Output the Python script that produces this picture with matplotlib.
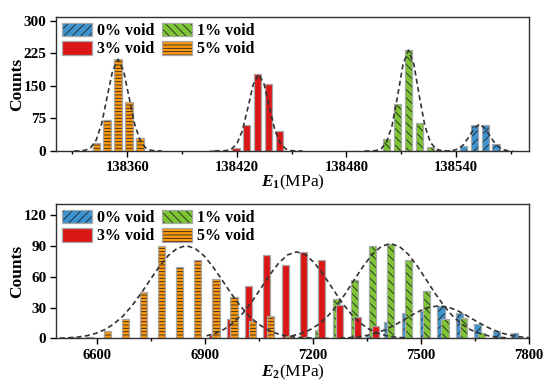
import matplotlib
matplotlib.use("Agg")
import matplotlib.pyplot as plt
from matplotlib.patches import Patch
from matplotlib.ticker import MultipleLocator

plt.rcParams['font.family'] = ['Liberation Serif', 'DejaVu Serif']
plt.rcParams['font.weight'] = 'bold'
plt.rcParams['mathtext.fontset'] = 'custom'
plt.rcParams['mathtext.rm'] = 'Liberation Serif:bold'
plt.rcParams['mathtext.it'] = 'Liberation Serif:italic:bold'
plt.rcParams['hatch.linewidth'] = 0.6

# ---- E1 histogram (top) ----
e1_v0_x = [138544, 138550, 138556, 138562]
e1_v0_n = [12, 59, 61, 17]
e1_v1_x = [138484, 138496, 138502, 138508, 138514, 138520, 138526]
e1_v1_n = [1, 1, 28, 108, 232, 65, 9]
e1_v3_x = [138407.5, 138419.5, 138425.5, 138431.5, 138437.5, 138443.5]
e1_v3_n = [2, 8, 60, 177, 154, 47]
e1_v5_x = [138331, 138343, 138349, 138355, 138361, 138367]
e1_v5_n = [1, 18, 71, 211, 113, 31]

# fitted normal curves (E1)
e1_fit0_x = list(range(138529, 138572, 3))
e1_fit0_y = [0, 0, 0.15, 1, 4.3, 14, 32, 52, 62, 52, 32, 14, 4.3, 1, 0.15]
e1_fit1_x = list(range(138490, 138539, 3))
e1_fit1_y = [0, 0.1, 0.9, 4.9, 20, 58, 125, 199, 232, 199, 125, 58, 20, 4.9, 0.9, 0.1, 0]
e1_fit3_x = list(range(138408, 138457, 3))
e1_fit3_y = [0, 0.1, 0.8, 4.3, 16, 46, 98, 153, 177, 153, 98, 46, 16, 4.3, 0.8, 0.1, 0]
e1_fit5_x = list(range(138331, 138380, 3))
e1_fit5_y = [0, 0.3, 1.7, 7.5, 25, 63, 124, 185, 211, 185, 124, 63, 25, 7.5, 1.7, 0.3, 0]

# ---- E2 histogram (bottom) ----
e2_v0_x = [7357, 7407, 7457, 7507, 7556, 7607, 7658, 7709, 7759]
e2_v0_n = [3, 16, 25, 27, 31.5, 24.5, 14, 7, 5]
e2_v1_x = [7215, 7265, 7315, 7365, 7416, 7466, 7516, 7567, 7618, 7668]
e2_v1_n = [8, 38, 57, 90, 92, 76, 46, 19, 20, 5]
e2_v3_x = [6922, 6972, 7022, 7072, 7123, 7173, 7223, 7273, 7325, 7375]
e2_v3_n = [3, 19, 51, 81, 71, 84, 76, 32, 21, 12]
e2_v5_x = [6529, 6579, 6629, 6679, 6729, 6779, 6830, 6880, 6931, 6981,
           7032, 7082, 7132, 7183]
e2_v5_n = [1, 1, 7, 19, 45, 90, 69, 76, 58, 40, 17, 22, 2, 1]

e2_fit0_x = list(range(7275, 7801, 25))
e2_fit0_y = [0.36, 0.8, 1.6, 3.0, 5.2, 8.4, 12.6, 17.5, 22.7, 27.3, 30.5, 31.6,
             30.5, 27.3, 22.7, 17.5, 12.6, 8.4, 5.2, 3.0, 1.6, 0.8]
e2_fit1_x = list(range(7140, 7741, 25))
e2_fit1_y = [2.4, 4.6, 8.1, 13.5, 21.1, 31.2, 43.4, 56.9, 70.2, 81.6, 89.3, 92,
             89.3, 81.6, 70.2, 56.9, 43.4, 31.2, 21.1, 13.5, 8.1, 4.6, 2.4, 1.2,
             0.6]
e2_fit3_x = list(range(6905, 7456, 25))
e2_fit3_y = [2.6, 5.1, 9.2, 15.4, 24.2, 35.3, 48.3, 61.5, 73.1, 81.1, 84,
             81.1, 73.1, 61.5, 48.3, 35.3, 24.2, 15.4, 9.2, 5.1, 2.6, 1.3, 0.6]
e2_fit5_x = list(range(6498, 7249, 25))
e2_fit5_y = [0.3, 0.7, 1.4, 2.7, 5.0, 8.7, 14.2, 21.8, 31.8, 43.7, 56.7, 69.4,
             80.2, 87.4, 90, 87.4, 80.2, 69.4, 56.7, 43.7, 31.8, 21.8, 14.2,
             8.7, 5.0, 2.7, 1.4, 0.7, 0.3, 0.1, 0.05]

LABELS = ['0% void', '1% void', '3% void', '5% void']
COLORS = ['#3C93D0', '#7DC534', '#DA1717', '#FF990D']
HATCHES = ['////', '\\\\\\\\', None, '-----']
EDGE = '#A8A8A8'
HATCH_C = '#222222'


def draw_bars(ax, x, n, i, width):
    ax.bar(x, n, width, color=COLORS[i], edgecolor=HATCH_C, linewidth=0,
           hatch=HATCHES[i], zorder=2)
    ax.bar(x, n, width, fill=False, edgecolor=EDGE, linewidth=0.9, zorder=2)


def style_axis(ax, xlabel, label_y):
    for s in ax.spines.values():
        s.set_color('#303030')
        s.set_linewidth(1.0)
    ax.tick_params(axis='x', which='major', direction='out', length=4,
                   width=1, labelsize=10.5, top=False, pad=3.5)
    ax.tick_params(axis='y', which='major', direction='out', length=4,
                   width=1, labelsize=11, right=False, pad=3)
    ax.tick_params(axis='x', which='minor', direction='out', length=2.5, width=1)
    ax.tick_params(axis='y', which='minor', left=False)
    ax.set_ylabel('Counts', fontsize=12.5, fontweight='bold')
    ax.yaxis.set_label_coords(-0.083, 0.5)
    ax.set_xlabel(xlabel, fontsize=12.5)
    ax.xaxis.set_label_coords(0.5, label_y)
    ax.xaxis.label.set_va('center')
    ax.yaxis.label.set_va('center')
    handles = []
    for i in range(4):
        handles.append((Patch(facecolor=COLORS[i], edgecolor=HATCH_C, lw=0, hatch=HATCHES[i]),
                        Patch(fill=False, edgecolor=EDGE, lw=0.9)))
    order = [0, 2, 1, 3]
    ax.legend([handles[k] for k in order], [LABELS[k] for k in order],
              ncol=2, loc='upper left', frameon=False,
              handlelength=1.9, handleheight=0.95, handletextpad=0.3,
              columnspacing=0.5, labelspacing=0.12, borderaxespad=0.2,
              borderpad=0.15, prop={'weight': 'bold', 'size': 11.5})


fig = plt.figure(figsize=(5.5, 3.82), dpi=100)
ax1 = fig.add_axes([0.1018, 0.6047, 0.86, 0.3508])
ax2 = fig.add_axes([0.1018, 0.1139, 0.86, 0.352])

curve_kw = dict(color='#333333', linestyle=(0, (3, 2)), linewidth=1.2, zorder=3)

# top panel
e1_bars = [(e1_v0_x, e1_v0_n), (e1_v1_x, e1_v1_n), (e1_v3_x, e1_v3_n), (e1_v5_x, e1_v5_n)]
for i, (x, n) in enumerate(e1_bars):
    draw_bars(ax1, x, n, i, 4.0)
for fx, fy in [(e1_fit0_x, e1_fit0_y), (e1_fit1_x, e1_fit1_y),
               (e1_fit3_x, e1_fit3_y), (e1_fit5_x, e1_fit5_y)]:
    ax1.plot(fx, fy, **curve_kw)
ax1.set_xlim(138321, 138580)
ax1.set_ylim(0, 308.5)
ax1.xaxis.set_major_locator(MultipleLocator(60))
ax1.xaxis.set_minor_locator(MultipleLocator(30))
ax1.yaxis.set_major_locator(MultipleLocator(75))
style_axis(ax1, r'$E_1$(MPa)', -0.236)

# bottom panel
e2_bars = [(e2_v0_x, e2_v0_n), (e2_v1_x, e2_v1_n), (e2_v3_x, e2_v3_n), (e2_v5_x, e2_v5_n)]
for i, (x, n) in enumerate(e2_bars):
    draw_bars(ax2, x, n, i, 20.0)
for fx, fy in [(e2_fit0_x, e2_fit0_y), (e2_fit1_x, e2_fit1_y),
               (e2_fit3_x, e2_fit3_y), (e2_fit5_x, e2_fit5_y)]:
    ax2.plot(fx, fy, **curve_kw)
ax2.set_xlim(6487, 7800)
ax2.set_ylim(0, 130.4)
ax2.xaxis.set_major_locator(MultipleLocator(300))
ax2.xaxis.set_minor_locator(MultipleLocator(150))
ax2.yaxis.set_major_locator(MultipleLocator(30))
style_axis(ax2, r'$E_2$(MPa)', -0.25)

fig.savefig('out.png', dpi=100)
